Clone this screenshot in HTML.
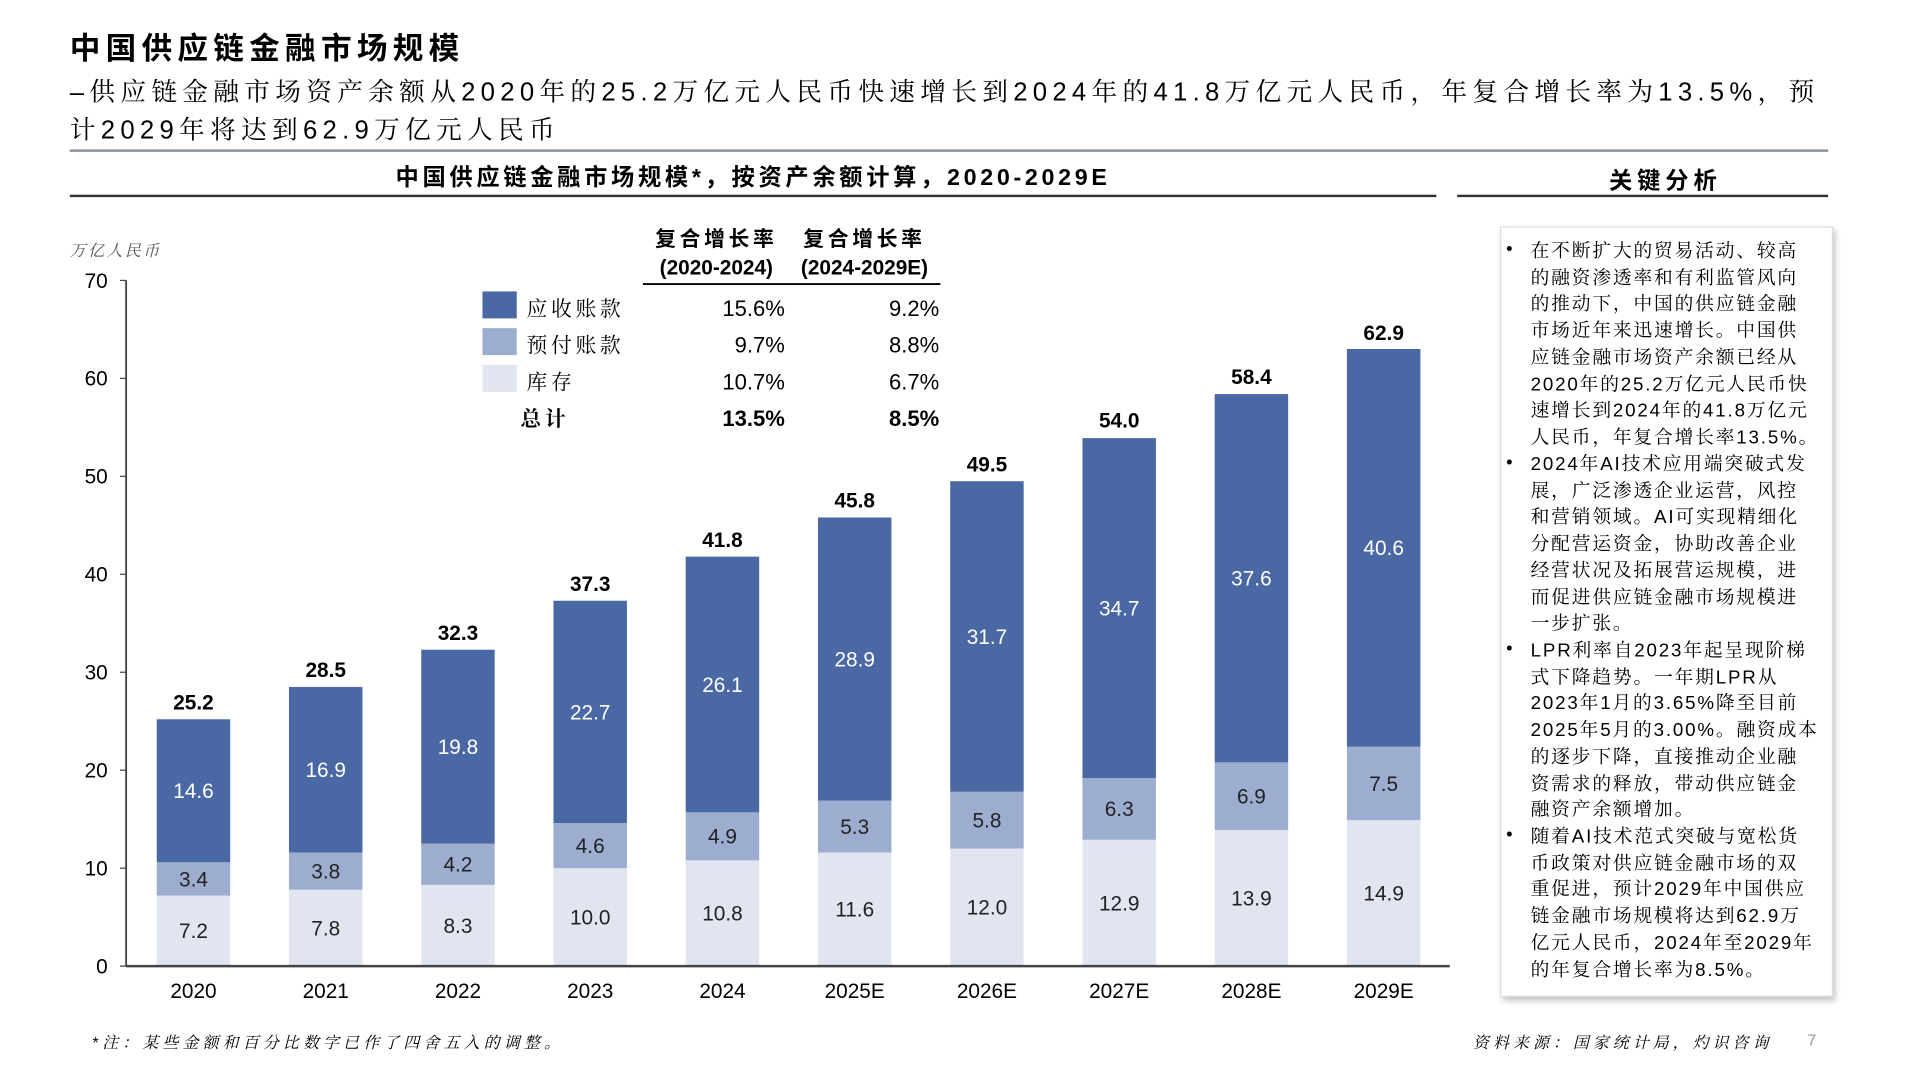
<!DOCTYPE html>
<html><head><meta charset="utf-8"><style>
html,body{margin:0;padding:0;width:1920px;height:1080px;overflow:hidden;background:#fff}
#s{position:absolute;left:0;top:0;width:1568px;height:882px;transform:scale(1.22449);transform-origin:0 0;font-family:"Liberation Sans","Noto Sans CJK SC",sans-serif;color:#000}
.a{position:absolute;white-space:nowrap}
.serif{font-family:"Liberation Sans","Noto Serif CJK SC",serif}
#panel{position:absolute;left:1225px;top:185px;width:270px;height:627px;background:#fff;border:1px solid #ddd;box-shadow:2px 3px 5px rgba(0,0,0,.25)}
#panel .l{position:absolute;left:24px;font-size:15.3px;white-space:nowrap;font-family:"Liberation Sans","Noto Serif CJK SC",serif;letter-spacing:1.5px}
#panel .b{position:absolute;left:4px;font-size:15px}
</style></head><body>
<div id="s">
<div class="a" style="left:57px;top:20px;font-size:25px;font-weight:bold;letter-spacing:4.3px">中国供应链金融市场规模</div>
<div class="a serif" style="left:57px;top:60px;font-size:21px;line-height:31px;letter-spacing:4.3px">–供应链金融市场资产余额从2020年的25.2万亿元人民币快速增长到2024年的41.8万亿元人民币，年复合增长率为13.5%，预<br>计2029年将达到62.9万亿元人民币</div>
<div class="a" style="left:57px;top:122px;width:1436px;height:2px;background:#8a9098"></div>
<div class="a" style="left:57px;top:130px;width:1116px;text-align:center;font-size:19px;font-weight:bold;letter-spacing:3px">中国供应链金融市场规模*，按资产余额计算，2020-2029E</div>
<div class="a" style="left:57px;top:159px;width:1116px;height:2px;background:#333"></div>
<div class="a" style="left:1210px;top:133px;width:300px;text-align:center;font-size:19px;font-weight:bold;letter-spacing:4px">关键分析</div>
<div class="a" style="left:1190px;top:159px;width:303px;height:2px;background:#333"></div>
<svg class="a" style="left:0;top:0" width="1568" height="882" id="chart"></svg>
<div id="panel">
<div class="b" style="top:9px">•</div>
<div class="l" style="top:9px;line-height:21.7px">在不断扩大的贸易活动、较高<br>的融资渗透率和有利监管风向<br>的推动下，中国的供应链金融<br>市场近年来迅速增长。中国供<br>应链金融市场资产余额已经从<br>2020年的25.2万亿元人民币快<br>速增长到2024年的41.8万亿元<br>人民币，年复合增长率13.5%。</div>
<div class="b" style="top:183px">•</div>
<div class="l" style="top:183px;line-height:21.7px">2024年AI技术应用端突破式发<br>展，广泛渗透企业运营，风控<br>和营销领域。AI可实现精细化<br>分配营运资金，协助改善企业<br>经营状况及拓展营运规模，进<br>而促进供应链金融市场规模进<br>一步扩张。</div>
<div class="b" style="top:335px">•</div>
<div class="l" style="top:335px;line-height:21.7px">LPR利率自2023年起呈现阶梯<br>式下降趋势。一年期LPR从<br>2023年1月的3.65%降至目前<br>2025年5月的3.00%。融资成本<br>的逐步下降，直接推动企业融<br>资需求的释放，带动供应链金<br>融资产余额增加。</div>
<div class="b" style="top:487px">•</div>
<div class="l" style="top:487px;line-height:21.7px">随着AI技术范式突破与宽松货<br>币政策对供应链金融市场的双<br>重促进，预计2029年中国供应<br>链金融市场规模将达到62.9万<br>亿元人民币，2024年至2029年<br>的年复合增长率为8.5%。</div>
</div>
<div class="a serif" style="left:75px;top:841px;font-size:13px;font-style:italic;letter-spacing:3.4px">*注：某些金额和百分比数字已作了四舍五入的调整。</div>
<div class="a serif" style="left:1203px;top:841px;font-size:13px;font-style:italic;letter-spacing:3.3px">资料来源：国家统计局，灼识咨询</div>
<div class="a" style="left:1476px;top:842px;font-size:13px;color:#999">7</div>
</div>
<script>
const categories=["2020","2021","2022","2023","2024","2025E","2026E","2027E","2028E","2029E"];
const inventory=[7.2,7.8,8.3,10.0,10.8,11.6,12.0,12.9,13.9,14.9];
const prepaid=[3.4,3.8,4.2,4.6,4.9,5.3,5.8,6.3,6.9,7.5];
const receivable=[14.6,16.9,19.8,22.7,26.1,28.9,31.7,34.7,37.6,40.6];
const totals=[25.2,28.5,32.3,37.3,41.8,45.8,49.5,54.0,58.4,62.9];
const yTicks=[0,10,20,30,40,50,60,70];
const legendNames=["应收账款","预付账款","库存","总计"];
const cagr1=["15.6%","9.7%","10.7%","13.5%"];
const cagr2=["9.2%","8.8%","6.7%","8.5%"];
const colors=["#e0e5ef","#9dadd0","#4a68a4"];
const NS="http://www.w3.org/2000/svg";
const svg=document.getElementById('chart');
const y=v=>789-v*8;
const x=i=>158+i*108;
const BW=60;
function mk(t,a,txt){const e=document.createElementNS(NS,t);for(const k in a)e.setAttribute(k,a[k]);if(txt!==undefined)e.textContent=txt;svg.appendChild(e);return e;}
const F='"Liberation Sans","Noto Sans CJK SC",sans-serif';
const FS='"Liberation Sans","Noto Serif CJK SC",serif';
let e;
e=mk('line',{x1:103,y1:229,x2:103,y2:789,stroke:'#444','stroke-width':1.5});


yTicks.forEach(t=>{
 e=mk('text',{x:88,y:y(t)+6,'text-anchor':'end','font-size':17,'font-family':F},t);
 
 
 e=mk('line',{x1:98,y1:y(t),x2:103,y2:y(t),stroke:'#444'});
 
 
});
e=mk('text',{x:57,y:209,'font-size':13,'font-style':'italic','font-family':FS,fill:'#555','letter-spacing':2},'万亿人民币');


categories.forEach((c,i)=>{
 const segs=[inventory[i],prepaid[i],receivable[i]];
 let base=0;
 segs.forEach((v,k)=>{
  e=mk('rect',{x:x(i)-BW/2,y:y(base+v),width:BW,height:v*8,fill:colors[k]});
  
  
  e=mk('text',{x:x(i),y:y(base+v/2)+6,'text-anchor':'middle','font-size':17,'font-family':F,fill:k==2?'#fff':'#222'},v.toFixed(1));
  
  
  base+=v;
 });
 e=mk('text',{x:x(i),y:y(totals[i])-8,'text-anchor':'middle','font-size':17,'font-weight':'bold','font-family':F},totals[i].toFixed(1));
 
 
 e=mk('text',{x:x(i),y:815,'text-anchor':'middle','font-size':17,'font-family':F},c);
 
 
});
e=mk('line',{x1:103,y1:789,x2:1184,y2:789,stroke:'#444','stroke-width':2});


[["复合增长率",585,201,3],["(2020-2024)",585,224,0],["复合增长率",706,201,3],["(2024-2029E)",706,224,0]].forEach(h=>{
 e=mk('text',{x:h[1],y:h[2],'text-anchor':'middle','font-size':17,'font-weight':'bold','font-family':F,'letter-spacing':h[3]},h[0]);
 
 
});
e=mk('line',{x1:525,y1:232,x2:768,y2:232,stroke:'#000','stroke-width':1.5});


legendNames.forEach((n,k)=>{
 const ly=258+k*30;
 if(k<3){
  e=mk('rect',{x:394,y:ly-20,width:28,height:22,fill:colors[2-k]});
  
  
 }
 e=mk('text',{x:k<3?430:425,y:ly,'font-size':17,'font-family':FS,'font-weight':k==3?'bold':'normal','letter-spacing':3},n);
 
 
 e=mk('text',{x:641,y:ly,'text-anchor':'end','font-size':18,'font-family':F,'font-weight':k==3?'bold':'normal'},cagr1[k]);
 
 
 e=mk('text',{x:767,y:ly,'text-anchor':'end','font-size':18,'font-family':F,'font-weight':k==3?'bold':'normal'},cagr2[k]);
 
 
});
</script>
</body></html>
